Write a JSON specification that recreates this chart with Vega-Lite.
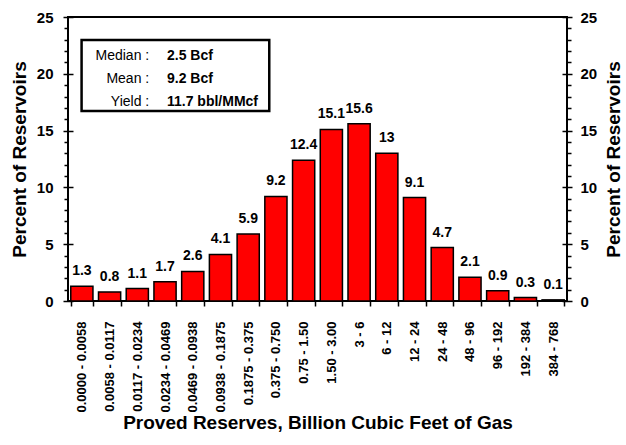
{
  "$schema": "https://vega.github.io/schema/vega-lite/v6.json",
  "width": 499,
  "height": 284,
  "autosize": {"type": "none"},
  "padding": {"left": 68, "top": 17, "right": 59, "bottom": 144},
  "config": {
    "font": "Liberation Sans",
    "view": {"stroke": "#000000", "strokeWidth": 2},
    "axis": {
      "domain": false,
      "grid": false,
      "labelColor": "#000000",
      "titleColor": "#000000",
      "tickColor": "#000000",
      "tickWidth": 1.5,
      "labelFont": "Liberation Sans",
      "titleFont": "Liberation Sans",
      "labelFontWeight": "bold",
      "titleFontWeight": "bold"
    }
  },
  "datasets": {
    "reserves": [
      {"range": "0.0000 - 0.0058", "pct": 1.3},
      {"range": "0.0058 - 0.0117", "pct": 0.8},
      {"range": "0.0117 - 0.0234", "pct": 1.1},
      {"range": "0.0234 - 0.0469", "pct": 1.7},
      {"range": "0.0469 - 0.0938", "pct": 2.6},
      {"range": "0.0938 - 0.1875", "pct": 4.1},
      {"range": "0.1875 - 0.375", "pct": 5.9},
      {"range": "0.375 - 0.750", "pct": 9.2},
      {"range": "0.75 - 1.50", "pct": 12.4},
      {"range": "1.50 - 3.00", "pct": 15.1},
      {"range": "3 - 6", "pct": 15.6},
      {"range": "6 - 12", "pct": 13},
      {"range": "12 - 24", "pct": 9.1},
      {"range": "24 - 48", "pct": 4.7},
      {"range": "48 - 96", "pct": 2.1},
      {"range": "96 - 192", "pct": 0.9},
      {"range": "192 - 384", "pct": 0.3},
      {"range": "384 - 768", "pct": 0.1}
    ],
    "summary": [
      {"line": 1, "stat": "Median :", "value": "2.5 Bcf"},
      {"line": 2, "stat": "Mean :", "value": "9.2 Bcf"},
      {"line": 3, "stat": "Yield :", "value": "11.7 bbl/MMcf"}
    ]
  },
  "resolve": {"scale": {"x": "independent", "y": "independent"}},
  "layer": [
    {
      "data": {"name": "reserves"},
      "mark": {"type": "bar", "fill": "#ff0000", "stroke": "#000000", "strokeWidth": 1.5},
      "encoding": {
        "x": {
          "field": "range",
          "type": "nominal",
          "sort": null,
          "scale": {"paddingInner": 0.2, "paddingOuter": 0.1},
          "axis": {
            "title": "Proved Reserves, Billion Cubic Feet of Gas",
            "titleFontSize": 19,
            "titlePadding": 1,
            "labelAngle": -90,
            "labelFontSize": 13,
            "labelPadding": 15,
            "tickSize": 5,
            "tickBand": "extent",
            "labelOverlap": false,
            "labelBound": false
          }
        },
        "y": {
          "field": "pct",
          "type": "quantitative",
          "scale": {"domain": [0, 25], "nice": false, "zero": true},
          "axis": {
            "orient": "left",
            "values": [0,1,2,3,4,5,6,7,8,9,10,11,12,13,14,15,16,17,18,19,20,21,22,23,24,25],
            "labelExpr": "datum.value % 5 === 0 ? datum.label : ''",
            "labelOverlap": false,
            "labelFontSize": 15,
            "labelPadding": 10,
            "offset": -5,
            "tickSize": 10,
            "tickDash": {"condition": {"test": "datum.value % 5 !== 0", "value": [0, 5, 4, 100]}, "value": []},
            "title": "Percent of Reservoirs",
            "titleFontSize": 19,
            "titlePadding": 7
          }
        }
      }
    },
    {
      "data": {"name": "reserves"},
      "mark": {"type": "text", "fontSize": 14, "fontWeight": "bold", "baseline": "alphabetic", "align": "center", "dy": -11, "color": "#000000"},
      "encoding": {
        "x": {
          "field": "range",
          "type": "nominal",
          "sort": null,
          "scale": {"paddingInner": 0.2, "paddingOuter": 0.1},
          "axis": null
        },
        "y": {
          "field": "pct",
          "type": "quantitative",
          "scale": {"domain": [0, 25], "nice": false, "zero": true},
          "axis": {
            "orient": "right",
            "values": [0,1,2,3,4,5,6,7,8,9,10,11,12,13,14,15,16,17,18,19,20,21,22,23,24,25],
            "labelExpr": "datum.value % 5 === 0 ? datum.label : ''",
            "labelOverlap": false,
            "labelFontSize": 15,
            "labelPadding": 8,
            "offset": -5,
            "tickSize": 10,
            "tickDash": {"condition": {"test": "datum.value % 5 !== 0", "value": [0, 5, 4, 100]}, "value": []},
            "title": "Percent of Reservoirs",
            "titleFontSize": 19,
            "titleAngle": -90,
            "titleBaseline": "top",
            "titlePadding": 8
          }
        },
        "text": {"field": "pct", "type": "quantitative"}
      }
    },
    {
      "data": {"values": [{"box": "summary"}]},
      "mark": {"type": "rect", "fill": "#ffffff", "stroke": "#000000", "strokeWidth": 2.5},
      "encoding": {
        "x": {"datum": 0.49, "type": "quantitative", "scale": {"domain": [0, 18], "nice": false, "zero": false}, "axis": null},
        "x2": {"datum": 7.26},
        "y": {"datum": 22.98, "type": "quantitative", "scale": {"domain": [0, 25], "nice": false, "zero": false}, "axis": null},
        "y2": {"datum": 16.73}
      }
    },
    {
      "data": {"name": "summary"},
      "mark": {"type": "text", "fontSize": 14, "fontWeight": "normal", "align": "right", "baseline": "middle", "color": "#000000"},
      "encoding": {
        "x": {"datum": 2.93, "type": "quantitative", "scale": {"domain": [0, 18], "nice": false, "zero": false}, "axis": null},
        "y": {
          "field": "line",
          "type": "quantitative",
          "scale": {"domain": [-0.74, 11.8], "reverse": true, "nice": false, "zero": false},
          "axis": null
        },
        "text": {"field": "stat", "type": "nominal"}
      }
    },
    {
      "data": {"name": "summary"},
      "mark": {"type": "text", "fontSize": 14, "fontWeight": "bold", "align": "left", "baseline": "middle", "color": "#000000"},
      "encoding": {
        "x": {"datum": 3.57, "type": "quantitative", "scale": {"domain": [0, 18], "nice": false, "zero": false}, "axis": null},
        "y": {
          "field": "line",
          "type": "quantitative",
          "scale": {"domain": [-0.74, 11.8], "reverse": true, "nice": false, "zero": false},
          "axis": null
        },
        "text": {"field": "value", "type": "nominal"}
      }
    }
  ]
}
